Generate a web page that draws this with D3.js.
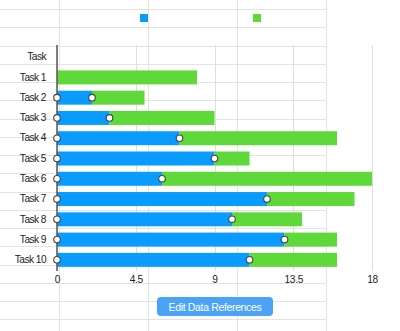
<!DOCTYPE html>
<html><head><meta charset="utf-8">
<script src="https://cdn.jsdelivr.net/npm/d3@7"></script>
<style>
html,body{margin:0;padding:0;background:#fff;}
svg{display:block;font-family:"Liberation Sans",Arial,Helvetica,sans-serif;}
</style></head><body>
<svg id="c" width="400" height="331"></svg>
<script>
const categories = ["Task","Task 1","Task 2","Task 3","Task 4","Task 5","Task 6","Task 7","Task 8","Task 9","Task 10"];
const startValues = [null,0,2,3,7,9,6,12,10,13,11];
const durationValues = [null,8,3,6,9,2,12,5,4,3,5];
const xTicks = [0,4.5,9,13.5,18];
const seriesColors = ["#0a9bff","#5fd83a"];
const buttonLabel = "Edit Data References";

const svg = d3.select("#c");

// spreadsheet background grid
const sheet = svg.append("g");
const rowLines = d3.range(0,18).map(k => 9 + k*18.25);
sheet.selectAll("line.h").data(rowLines).enter().append("line")
  .attr("x1",0).attr("x2",326).attr("y1",d=>Math.round(d)+0.5).attr("y2",d=>Math.round(d)+0.5)
  .attr("stroke","#e3e3e3").attr("stroke-width",1);
const colLines = [59,148,237,326];
sheet.selectAll("line.v").data(colLines).enter().append("line")
  .attr("x1",d=>d+0.5).attr("x2",d=>d+0.5).attr("y1",0).attr("y2",331)
  .attr("stroke","#e3e3e3").attr("stroke-width",1);

const x = d3.scaleLinear().domain([0,18]).range([57,372]);
const y = d3.scaleBand().domain(categories).range([47,270]).paddingInner(0.31).paddingOuter(0.155);

// chart gridlines
svg.append("g").selectAll("line").data(xTicks).enter().append("line")
  .attr("x1",d=>Math.round(x(d))+0.5).attr("x2",d=>Math.round(x(d))+0.5)
  .attr("y1",45).attr("y2",271).attr("stroke","#dedede");

// bars
const rows = categories.map((c,i)=>({c, s:startValues[i], d:durationValues[i]})).filter(r=>r.s!==null);
svg.append("g").selectAll("rect").data(rows.filter(r=>r.s>0)).enter().append("rect")
  .attr("x",x(0)).attr("y",r=>y(r.c)).attr("width",r=>x(r.s)-x(0)).attr("height",y.bandwidth())
  .attr("fill",seriesColors[0]);
svg.append("g").selectAll("rect").data(rows).enter().append("rect")
  .attr("x",r=>x(r.s)).attr("y",r=>y(r.c)).attr("width",r=>x(r.s+r.d)-x(r.s)).attr("height",y.bandwidth())
  .attr("fill",seriesColors[1]);

// y axis
const yAxis = d3.axisLeft(y).tickSize(0).tickPadding(11);
const ya = svg.append("g").attr("transform","translate(57,0)").call(yAxis);
ya.select(".domain").remove();
ya.selectAll("text").attr("font-size",10.2).attr("letter-spacing",-0.55).attr("fill","#222")
  .attr("font-family","Liberation Sans, Arial, sans-serif");
svg.append("line").attr("x1",57).attr("x2",57).attr("y1",45).attr("y2",271)
  .attr("stroke","#555").attr("stroke-width",1.5);

// handles
const handles = svg.append("g");
rows.filter(r=>r.s>0).forEach(r=>{
  [0,r.s].forEach(v=>{
    handles.append("circle").attr("cx",x(v)).attr("cy",y(r.c)+y.bandwidth()/2).attr("r",3.3)
      .attr("fill","#fff").attr("stroke","#444").attr("stroke-width",1.1);
  });
});

// x axis labels
const xAxis = d3.axisBottom(x).tickValues(xTicks).tickSize(0).tickPadding(0).tickFormat(d=>String(d));
const xa = svg.append("g").attr("transform","translate(0,276)").call(xAxis);
xa.select(".domain").remove();
xa.selectAll("text").attr("font-size",10.2).attr("letter-spacing",-0.3).attr("fill","#222")
  .attr("font-family","Liberation Sans, Arial, sans-serif");

// legend swatches
const legendX = [144,257];
svg.append("g").selectAll("rect").data(seriesColors).enter().append("rect")
  .attr("x",(d,i)=>legendX[i]-4).attr("y",14).attr("width",8).attr("height",8).attr("fill",d=>d);

// button
svg.append("rect").attr("x",157).attr("y",297).attr("width",116).attr("height",19).attr("rx",4)
  .attr("fill","#4ba3f6");
svg.append("text").attr("x",215).attr("y",310.5).attr("text-anchor","middle")
  .attr("font-size",10.5).attr("letter-spacing",-0.35).attr("fill","#fff").text(buttonLabel);
</script>
</body></html>
